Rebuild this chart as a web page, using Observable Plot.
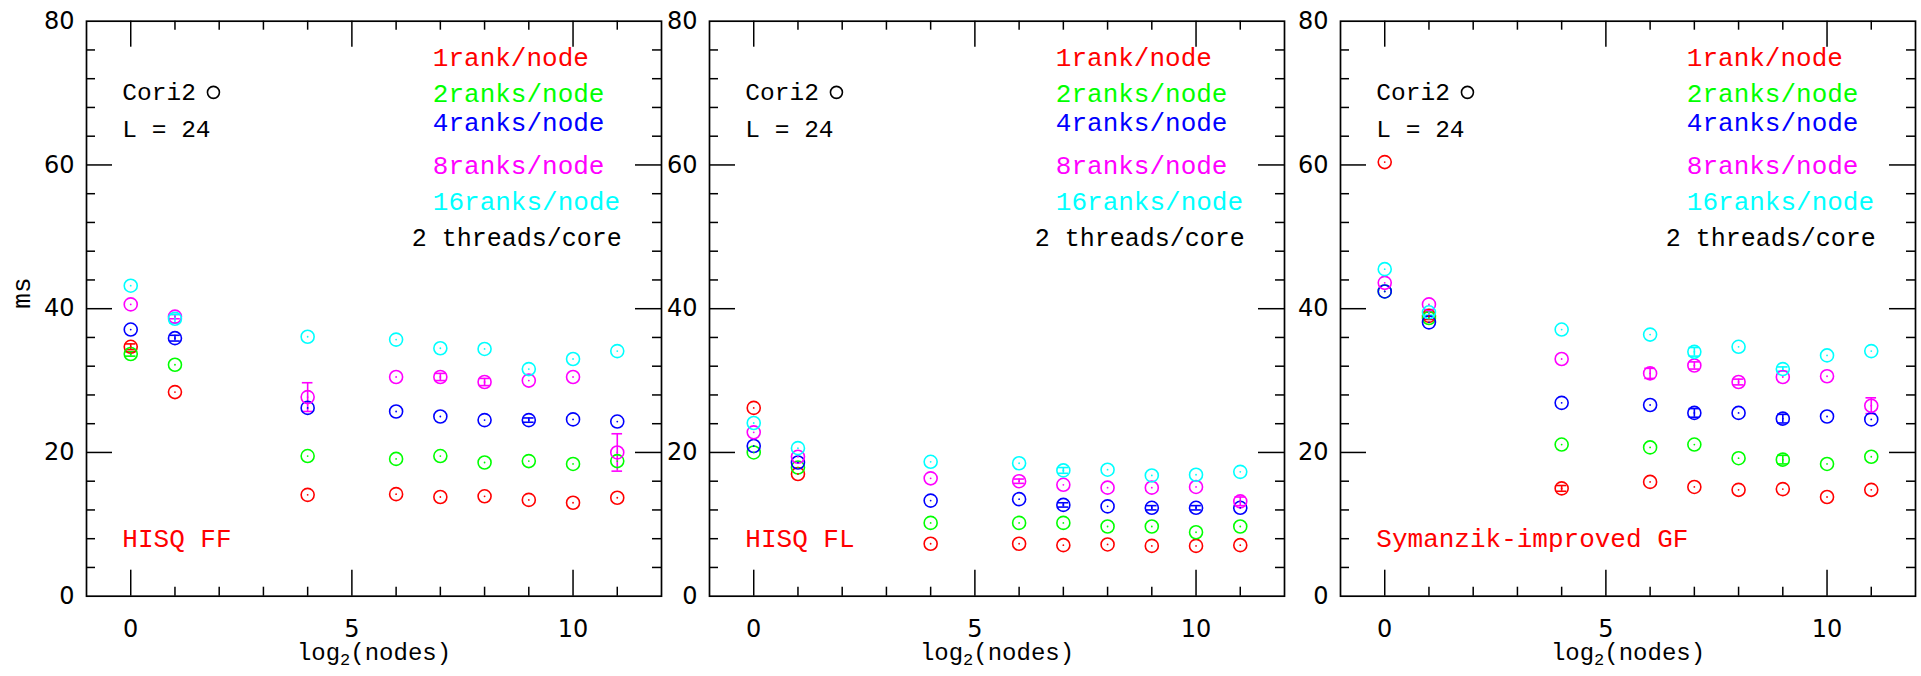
<!DOCTYPE html>
<html><head><meta charset="utf-8">
<script src="https://cdn.jsdelivr.net/npm/d3@7"></script>
<script src="https://cdn.jsdelivr.net/npm/@observablehq/plot@0.6"></script>
<style>
html,body{margin:0;padding:0;background:#fff;}
#chart{position:relative;width:1921px;height:676px;overflow:hidden;background:#fff;}
#chart svg{position:absolute;left:0;top:0;}
</style></head><body><div id="chart"></div>
<script>
// ---------- data ----------
const log2Nodes = [0, 1, 4, 6, 7, 8, 9, 10, 11];
const seriesNames = ["1rank/node", "2ranks/node", "4ranks/node", "8ranks/node", "16ranks/node"];
const seriesColors = ["#ff0000", "#00ff00", "#0000ff", "#ff00ff", "#00ffff"];
const panelNames = ["HISQ FF", "HISQ FL", "Symanzik-improved GF"];
const xTickLabels = [0, 5, 10];
const yTickLabels = [0, 20, 40, 60, 80];

// HISQ FF (ms)
const ffRank1  = [34.7, 28.4, 14.1, 14.2, 13.8, 13.9, 13.4, 13.0, 13.7];
const ffRank2  = [33.7, 32.2, 19.5, 19.1, 19.5, 18.6, 18.8, 18.4, 18.8];
const ffRank4  = [37.1, 35.9, 26.2, 25.7, 25.0, 24.5, 24.5, 24.6, 24.3];
const ffRank8  = [40.6, 38.9, 27.7, 30.5, 30.5, 29.8, 30.0, 30.5, 20.0];
const ffRank16 = [43.2, 38.6, 36.1, 35.7, 34.5, 34.4, 31.6, 33.0, 34.1];
const ffErr1  = [0.4, 0, 0, 0, 0, 0, 0, 0, 0];
const ffErr2  = [0.3, 0, 0, 0, 0, 0, 0, 0, 0];
const ffErr4  = [0, 0.4, 0, 0, 0, 0, 0.3, 0, 0];
const ffErr8  = [0, 0.3, 2.0, 0, 0.5, 0.5, 0, 0, 2.6];
const ffErr16 = [0, 0.6, 0, 0, 0, 0, 0, 0, 0];

// HISQ FL (ms)
const flRank1  = [26.2, 17.0, 7.3, 7.3, 7.1, 7.2, 7.0, 7.0, 7.1];
const flRank2  = [20.0, 17.9, 10.2, 10.2, 10.2, 9.7, 9.7, 8.9, 9.7];
const flRank4  = [20.9, 18.6, 13.3, 13.5, 12.7, 12.5, 12.3, 12.3, 12.3];
const flRank8  = [22.8, 19.4, 16.4, 16.0, 15.5, 15.1, 15.1, 15.2, 13.2];
const flRank16 = [24.1, 20.6, 18.7, 18.5, 17.5, 17.6, 16.8, 16.9, 17.3];
const flErr1  = [0, 0, 0, 0, 0, 0, 0, 0, 0];
const flErr2  = [0, 0, 0, 0, 0, 0, 0, 0, 0];
const flErr4  = [0, 0, 0, 0, 0.3, 0, 0.3, 0.3, 0];
const flErr8  = [0, 0, 0, 0.3, 0, 0, 0, 0, 0.6];
const flErr16 = [0, 0, 0, 0, 0.4, 0, 0, 0, 0];

// Symanzik-improved GF (ms)
const gfRank1  = [60.4, 39.0, 15.0, 15.9, 15.2, 14.8, 14.9, 13.8, 14.8];
const gfRank2  = [42.4, 38.7, 21.1, 20.7, 21.1, 19.2, 19.0, 18.4, 19.4];
const gfRank4  = [42.4, 38.1, 26.9, 26.6, 25.5, 25.5, 24.7, 25.0, 24.6];
const gfRank8  = [43.6, 40.6, 33.0, 31.0, 32.1, 29.8, 30.5, 30.6, 26.5];
const gfRank16 = [45.5, 39.5, 37.1, 36.4, 34.0, 34.7, 31.6, 33.5, 34.1];
const gfErr1  = [0, 0.5, 0.4, 0, 0, 0, 0, 0, 0];
const gfErr2  = [0, 0, 0, 0, 0, 0, 0.6, 0, 0];
const gfErr4  = [0, 0, 0, 0, 0.6, 0, 0.6, 0, 0];
const gfErr8  = [0, 0, 0, 0.7, 0.5, 0.4, 0, 0, 1.1];
const gfErr16 = [0, 0.4, 0, 0, 0.6, 0, 0.3, 0, 0];

const panelValues = [
  [ffRank1, ffRank2, ffRank4, ffRank8, ffRank16],
  [flRank1, flRank2, flRank4, flRank8, flRank16],
  [gfRank1, gfRank2, gfRank4, gfRank8, gfRank16]
];
const panelErrors = [
  [ffErr1, ffErr2, ffErr4, ffErr8, ffErr16],
  [flErr1, flErr2, flErr4, flErr8, flErr16],
  [gfErr1, gfErr2, gfErr4, gfErr8, gfErr16]
];

// annotation text
const noteLines = ["Cori2", "L = 24"];
const threadsNote = "2 threads/core";
const yLabel = "ms";
const xLabel = "log2(nodes)";

// ---------- layout ----------
const W = 1921, H = 676;
const frameLefts = [86, 709, 1340];
const frameW = 575;
const mTop = 20.7, mBottom = 80.3;
const plotH = H - mTop - mBottom;
const xDomain = [-1, 12];
const yDomain = [0, 80];
const xMinor = [1, 2, 3, 4, 6, 7, 8, 9, 11];
const xMajor = [0, 5, 10];
const yMinor = [4, 8, 12, 16, 24, 28, 32, 36, 44, 48, 52, 56, 64, 68, 72, 76];
const yMajor = [20, 40, 60];
const noteX = -0.19, noteY = [70.1, 65.0], noteMarkX = 1.87;
const legendX = 6.83, legendY = [74.9, 69.9, 65.9, 59.9, 54.9];
const threadsX = 11.1, threadsY = 49.9;
const panelLabelY = 8.0;
const annoFont = "Liberation Mono, Courier New, monospace";
const tickFont = "DejaVu Sans, sans-serif";

function makePanel(pi) {
  const rows = [];
  for (let s = 0; s < 5; s++) {
    for (let i = 0; i < log2Nodes.length; i++) {
      rows.push({x: log2Nodes[i], y: panelValues[pi][s][i], e: panelErrors[pi][s][i], c: seriesColors[s]});
    }
  }
  const errRows = rows.filter(d => d.e > 0);
  const L = frameLefts[pi];
  const capHalf = 0.12;
  const marks = [
    Plot.frame({stroke: "black", strokeWidth: 1.7}),
    // ticks inside the frame
    Plot.tickX(xMajor, {x: d => d, insetTop: plotH - 26, stroke: "black", strokeWidth: 1.5}),
    Plot.tickX(xMajor, {x: d => d, insetBottom: plotH - 26, stroke: "black", strokeWidth: 1.5}),
    Plot.tickX(xMinor, {x: d => d, insetTop: plotH - 9, stroke: "black", strokeWidth: 1.5}),
    Plot.tickX(xMinor, {x: d => d, insetBottom: plotH - 9, stroke: "black", strokeWidth: 1.5}),
    Plot.tickY(yMajor, {y: d => d, insetRight: frameW - 26, stroke: "black", strokeWidth: 1.5}),
    Plot.tickY(yMajor, {y: d => d, insetLeft: frameW - 26, stroke: "black", strokeWidth: 1.5}),
    Plot.tickY(yMinor, {y: d => d, insetRight: frameW - 9, stroke: "black", strokeWidth: 1.5}),
    Plot.tickY(yMinor, {y: d => d, insetLeft: frameW - 9, stroke: "black", strokeWidth: 1.5}),
    Plot.axisX({ticks: xTickLabels, tickSize: 0, tickPadding: 24, label: null, fontSize: 24, fontFamily: tickFont, fill: "black"}),
    Plot.axisY({ticks: yTickLabels, tickSize: 0, tickPadding: 12, label: null, fontSize: 24, fontFamily: tickFont, fill: "black"}),
    // error bars
    Plot.ruleX(errRows, {x: "x", y1: d => d.y - d.e, y2: d => d.y + d.e, stroke: "c", strokeWidth: 1.6}),
    Plot.ruleY(errRows, {y: d => d.y - d.e, x1: d => d.x - capHalf, x2: d => d.x + capHalf, stroke: "c", strokeWidth: 1.6}),
    Plot.ruleY(errRows, {y: d => d.y + d.e, x1: d => d.x - capHalf, x2: d => d.x + capHalf, stroke: "c", strokeWidth: 1.6}),
    // points
    Plot.dot(rows, {x: "x", y: "y", r: 6.5, stroke: "c", fill: "none", strokeWidth: 1.6}),
    Plot.dot(rows, {x: "x", y: "y", r: 0.9, fill: "c", stroke: "none"}),
    // annotations
    Plot.text(noteLines, {x: noteX, y: (d, i) => noteY[i], textAnchor: "start", fill: "black", fontSize: 24.5, fontFamily: annoFont}),
    Plot.dot([noteLines[0]], {x: noteMarkX, y: noteY[0], r: 6, stroke: "black", fill: "none", strokeWidth: 1.6}),
    Plot.text(seriesNames, {x: legendX, y: (d, i) => legendY[i], fill: (d, i) => seriesColors[i], textAnchor: "start", fontSize: 26, fontFamily: annoFont}),
    Plot.text([threadsNote], {x: threadsX, y: threadsY, textAnchor: "end", fill: "black", fontSize: 25, fontFamily: annoFont}),
    Plot.text([panelNames[pi]], {x: noteX, y: panelLabelY, textAnchor: "start", fill: "#ff0000", fontSize: 26, fontFamily: annoFont}),
    Plot.text([xLabel], {frameAnchor: "bottom", dy: 64, fill: "black", fontSize: 24, fontFamily: annoFont})
  ];
  if (pi === 0) {
    marks.push(Plot.text([yLabel], {frameAnchor: "left", dx: -65, rotate: -90, fill: "black", fontSize: 26, fontFamily: annoFont}));
  }
  const svg = Plot.plot({
    width: W, height: H,
    marginLeft: L, marginRight: W - L - frameW, marginTop: mTop, marginBottom: mBottom,
    x: {domain: xDomain},
    y: {domain: yDomain},
    color: {type: "identity"},
    style: {background: "transparent", overflow: "visible"},
    marks
  });
  d3.select(svg).selectAll("text").filter(function () { return this.textContent === xLabel; })
    .each(function () {
      const t = d3.select(this);
      t.text(null);
      t.append("tspan").text("log");
      t.append("tspan").attr("font-size", 17).attr("dy", 5).text("2");
      t.append("tspan").attr("dy", -5).text("(nodes)");
    });
  return svg;
}

const chart = document.getElementById("chart");
for (let pi = 0; pi < 3; pi++) chart.appendChild(makePanel(pi));
</script>
</body></html>
